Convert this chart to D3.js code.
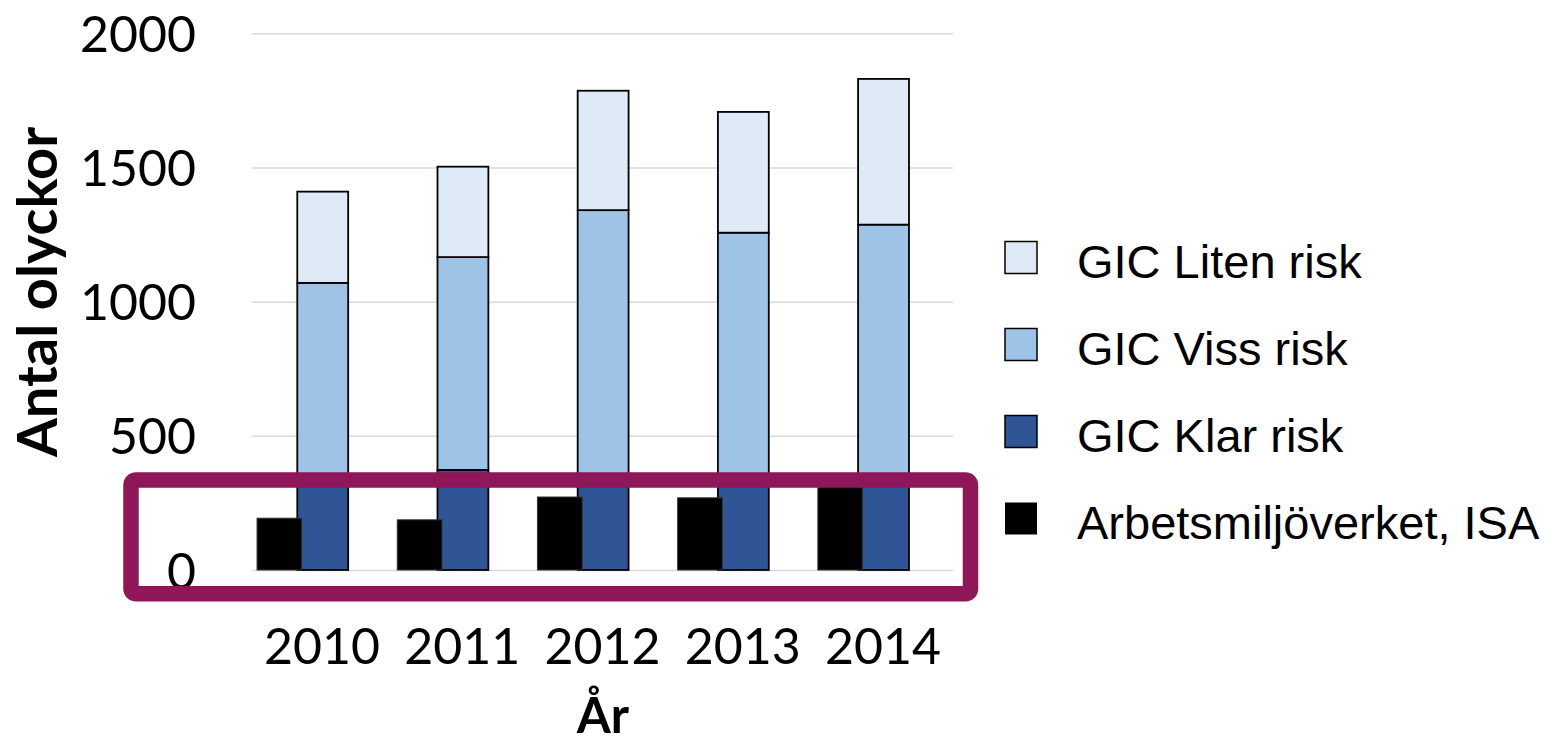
<!DOCTYPE html>
<html><head><meta charset="utf-8">
<script src="https://cdn.jsdelivr.net/npm/d3@7"></script>
<style>body{margin:0;background:#fff}svg{display:block}</style>
</head><body>
<svg id="c" width="1557" height="743"></svg>
<script>
const years = ["2010","2011","2012","2013","2014"];
const klarRisk = [340, 373, 345, 345, 345];
const vissRisk = [730, 793, 996, 912, 942];
const litenRisk = [340, 337, 445, 450, 543];
const isa = [193, 187, 272, 269, 310];
const yTicks = [0, 500, 1000, 1500, 2000];
const seriesNames = ["GIC Liten risk","GIC Viss risk","GIC Klar risk","Arbetsmiljöverket, ISA"];
const seriesColors = ["#DEEAF6","#9DC3E6","#2F5597","#000000"];

const svg = d3.select("#c");
const x = d3.scaleBand().domain(years).range([252, 953]).padding(0);
const y = d3.scaleLinear().domain([0, 2000]).range([570, 33.3]);
const bw = x.bandwidth();

// gridlines
const grid = svg.append("g").attr("transform","translate(252,0)")
  .call(d3.axisLeft(y).tickValues(yTicks).tickSize(-701).tickFormat(""));
grid.select(".domain").remove();
grid.selectAll("line").attr("stroke","#d9d9d9").attr("stroke-width",1.5);

// y labels
const ya = svg.append("g").attr("transform","translate(196,0)")
  .call(d3.axisLeft(y).tickValues(yTicks).tickSize(0).tickPadding(0).tickFormat(d3.format("d")));
ya.select(".domain").remove();
ya.selectAll("text").attr("font-family","Lato, sans-serif").attr("font-size",50).attr("fill","#000").attr("dy","0.36em");

// x labels
const xa = svg.append("g").attr("transform","translate(0,570)")
  .call(d3.axisBottom(x).tickSize(0).tickPadding(0));
xa.select(".domain").remove();
xa.selectAll("text").attr("font-family","Lato, sans-serif").attr("font-size",50).attr("fill","#000").attr("dy",0).attr("y",94);

// stacked GIC
const table = years.map((yr,i)=>({year:yr, klar:klarRisk[i], viss:vissRisk[i], liten:litenRisk[i]}));
const stack = d3.stack().keys(["klar","viss","liten"])(table);
const stackColors = {klar:seriesColors[2], viss:seriesColors[1], liten:seriesColors[0]};
stack.forEach(layer=>{
  svg.append("g").selectAll("rect").data(layer).join("rect")
    .attr("x", d=>x(d.data.year)+0.323*bw)
    .attr("width", (0.686-0.323)*bw)
    .attr("y", d=>y(d[1]))
    .attr("height", d=>y(d[0])-y(d[1]))
    .attr("fill", stackColors[layer.key])
    .attr("stroke","#000").attr("stroke-width",1.8);
});

// ISA bars
svg.append("g").selectAll("rect").data(isa).join("rect")
  .attr("x",(d,i)=>x(years[i])+0.036*bw)
  .attr("width",(0.355-0.036)*bw)
  .attr("y",d=>y(d))
  .attr("height",d=>y(0)-y(d))
  .attr("fill","#000").attr("stroke","#333").attr("stroke-width",1);

// axis titles
svg.append("text").attr("transform","translate(57,292) rotate(-90)")
  .attr("text-anchor","middle").attr("font-family","Lato, sans-serif")
  .attr("font-weight","bold").attr("font-size",56).text("Antal olyckor");
svg.append("text").attr("x",603).attr("y",733).attr("text-anchor","middle")
  .attr("font-family","Lato, sans-serif").attr("font-weight","bold").attr("font-size",49).text("År");

// legend
const lg = svg.append("g");
seriesNames.forEach((n,i)=>{
  const cy = 257.5 + i*87;
  lg.append("rect").attr("x",1005).attr("y",cy-16).attr("width",32).attr("height",32)
    .attr("fill",seriesColors[i]).attr("stroke", i<3?"#000":"none").attr("stroke-width",1.5);
  lg.append("text").attr("x",1077).attr("y",cy+20.5).attr("font-family","'Liberation Sans', Arial, sans-serif")
    .attr("font-size",47).attr("fill","#000").text(n);
});

// highlight rectangle
svg.append("rect").attr("x",131).attr("y",480).attr("width",839.5).attr("height",113.7)
  .attr("rx",5).attr("fill","none").attr("stroke","#90165A").attr("stroke-width",15.5);
</script>
</body></html>
